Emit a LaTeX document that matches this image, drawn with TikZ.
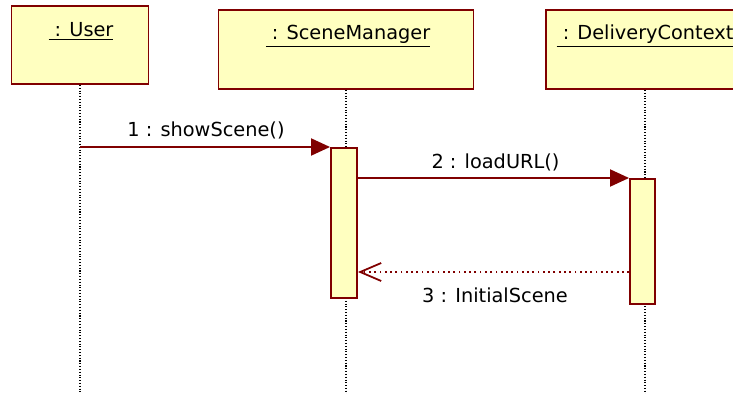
\documentclass[tikz,border=0pt]{standalone}
\usepackage{fontspec}
\setmainfont{DejaVu Sans}
\usetikzlibrary{arrows.meta, positioning}

\definecolor{umlred}{RGB}{128,0,0}
\definecolor{umlyellow}{RGB}{255,255,192}

\tikzset{
	objbox/.style={draw=umlred, fill=umlyellow, line width=1.1pt, inner sep=0pt},
	actbar/.style={draw=umlred, fill=umlyellow, line width=1.1pt, inner sep=0pt},
	lifeline/.style={densely dotted, line width=0.6pt},
	callmsg/.style={umlred, line width=1.1pt, -{Triangle[length=0.38cm, width=0.34cm]}},
	replymsg/.style={umlred, line width=1pt, dotted, -{Straight Barb[length=0.42cm, width=0.36cm]}},
	txt/.style={anchor=base, inner sep=0pt, font=\fontsize{11}{13}\selectfont},
}

\begin{document}
\begin{tikzpicture}[x=0.02cm, y=-0.02cm]
		\useasboundingbox (0,0) rectangle (733,394);
\clip (0,0) rectangle (733,394);

\coordinate (userend) at (80,394);
\coordinate (smend) at (346,394);
\coordinate (dcend) at (645,394);
\coordinate (row1) at (0,147);
\coordinate (row3) at (0,272);

% objects
\node[objbox, minimum width=2.74cm, minimum height=1.56cm] (user) at (80,45) {};
\node[objbox, minimum width=5.1cm, minimum height=1.58cm] (scenemgr) at (346,49.5) {};
\node[objbox, minimum width=3.96cm, minimum height=1.58cm] (delivctx) at (645,49.5) {};
\node[txt] (userlbl) at (81,37) {\underline{~: User}};
\node[txt] (scenemgrlbl) at (348,40) {\underline{~: SceneManager}};
\node[txt] (delivctxlbl) at (645,40) {\underline{~: DeliveryContext}};

% lifelines
\draw[lifeline] (user.south) -- (userend);
\draw[lifeline] (scenemgr.south) -- (smend);
\draw[lifeline] (delivctx.south) -- (dcend);

% activations
\node[actbar, minimum width=0.52cm, minimum height=3cm, anchor=north] (smbar) at (344,147) {};
\node[actbar, minimum width=0.5cm, minimum height=2.5cm, anchor=north] (dcbar) at (642.5,178) {};

% messages
\draw[callmsg] (userend |- row1) -- (smbar.north west);
\node[txt] (msg1) at (206,137) {1 : showScene()};
\draw[callmsg] (smbar.east |- dcbar.north) -- (dcbar.north west);
\node[txt] (msg2) at (495.5,169) {2 : loadURL()};
\draw[replymsg] (dcbar.west |- row3) -- (smbar.east |- row3);
\node[txt] (msg3) at (495,303) {3 : InitialScene};
	\end{tikzpicture}
\end{document}
